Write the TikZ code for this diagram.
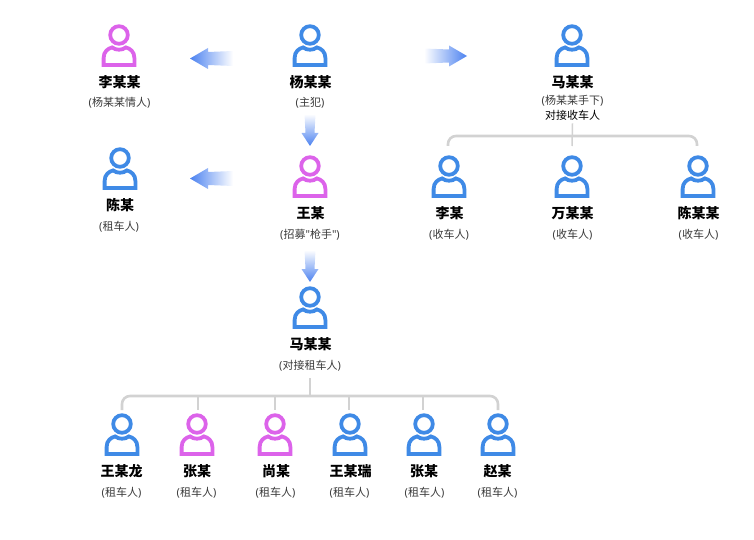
\documentclass[tikz,border=0pt]{standalone}
\usepackage{fontspec}
\setmainfont{Noto Sans CJK SC}
\newfontfamily\quoteFont{Noto Sans}
\usetikzlibrary{calc, positioning}
\definecolor{personB}{HTML}{3F8AE6}
\definecolor{personP}{HTML}{DC63EA}
\definecolor{arrowB}{HTML}{4C82F0}
\definecolor{busGray}{HTML}{D2D2D2}
\definecolor{noteGray}{HTML}{3A3A3A}
\newcommand{\notePar}[1]{{\quoteFont(}#1{\quoteFont)}}

\tikzset{
  pics/person/.style = {code = {
    \draw[#1, line width = 3.8pt] (0, 0) circle (8.8);
    \draw[#1, line width = 3.8pt, line join = miter] (-15.4, 30) -- (-15.4, 23)
      .. controls (-15.4, 16.5) and (-11, 13.5) .. (-6.8, 12.4)
      .. controls (-3.5, 15.5) and (3.5, 15.5) .. (6.8, 12.4)
      .. controls (11, 13.5) and (15.4, 16.5) .. (15.4, 23)
      -- (15.4, 30) -- cycle;
  }},
  nameText/.style = {inner sep = 0pt, font = \fontsize{14}{14}\selectfont\bfseries},
  noteText/.style = {inner sep = 0pt, text = noteGray, font = \fontsize{11}{12}\selectfont},
  busMain/.style = {busGray, line width = 2.6pt, rounded corners = 8pt},
  busDrop/.style = {busGray, line width = 1.5pt},
  fadeLeft/.style = {left color = arrowB, middle color = arrowB!60!white, right color = white},
  fadeRight/.style = {left color = white, middle color = arrowB!60!white, right color = arrowB},
  fadeDown/.style = {top color = white, middle color = arrowB!60!white, bottom color = arrowB}
}

\begin{document}
\begin{tikzpicture}[x = 1pt, y = -1pt]
  \useasboundingbox (0, 0) rectangle (754, 540);

  % ------------------------
  % people, top rows
  % ------------------------

  \pic at (119, 35) {person = personP};
  \node[nameText] (liName) at (119.5, 82) {李某某};
  \node[noteText] (liNote) at (119.5, 102.5) {\notePar{杨某某情人}};

  \pic at (310, 35) {person = personB};
  \node[nameText] (yangName) at (310.5, 82) {杨某某};
  \node[noteText] (yangNote) at (310, 102.5) {\notePar{主犯}};

  \pic at (572, 35) {person = personB};
  \node[nameText] (maName) at (572.5, 82) {马某某};
  \node[noteText] (maNote) at (572.5, 100.5) {\notePar{杨某某手下}};
  \node[noteText, text = black] (maRole) at (572.5, 115) {对接收车人};

  \pic at (120, 158) {person = personB};
  \node[nameText] (chenName) at (120, 205) {陈某};
  \node[noteText] (chenNote) at (119, 226.5) {\notePar{租车人}};

  \pic at (310, 166) {person = personP};
  \node[nameText] (wangName) at (310.5, 213) {王某};
  \node[noteText] (wangNote) at (310, 234.5) {\notePar{招募{\quoteFont"}枪手{\quoteFont"}}};

  \pic at (449, 166) {person = personB};
  \node[nameText] (liBName) at (449.5, 213) {李某};
  \node[noteText] (liBNote) at (449, 234.5) {\notePar{收车人}};

  \pic at (572, 166) {person = personB};
  \node[nameText] (wanName) at (572.5, 213) {万某某};
  \node[noteText] (wanNote) at (572.5, 234.5) {\notePar{收车人}};

  \pic at (698, 166) {person = personB};
  \node[nameText] (chenBName) at (698.5, 213) {陈某某};
  \node[noteText] (chenBNote) at (698.5, 234.5) {\notePar{收车人}};

  \pic at (310, 297) {person = personB};
  \node[nameText] (maBName) at (310.5, 344) {马某某};
  \node[noteText] (maBNote) at (310, 365.5) {\notePar{对接租车人}};

  % ------------------------
  % people, bottom row
  % ------------------------

  \pic at (122, 424) {person = personB};
  \node[nameText] (wangLName) at (121.5, 471) {王某龙};
  \node[noteText] (wangLNote) at (121.5, 492.5) {\notePar{租车人}};

  \pic at (197, 424) {person = personP};
  \node[nameText] (zhangAName) at (197, 471) {张某};
  \node[noteText] (zhangANote) at (196.5, 492.5) {\notePar{租车人}};

  \pic at (275, 424) {person = personP};
  \node[nameText] (shangName) at (276, 471) {尚某};
  \node[noteText] (shangNote) at (275.5, 492.5) {\notePar{租车人}};

  \pic at (350, 424) {person = personB};
  \node[nameText] (wangRName) at (350.5, 471) {王某瑞};
  \node[noteText] (wangRNote) at (349.5, 492.5) {\notePar{租车人}};

  \pic at (424, 424) {person = personB};
  \node[nameText] (zhangBName) at (424, 471) {张某};
  \node[noteText] (zhangBNote) at (424.5, 492.5) {\notePar{租车人}};

  \pic at (498, 424) {person = personB};
  \node[nameText] (zhaoName) at (497.5, 471) {赵某};
  \node[noteText] (zhaoNote) at (497.5, 492.5) {\notePar{租车人}};

  % ------------------------
  % gray brackets
  % ------------------------

  \coordinate (recvJoin) at (572, 136);
  \coordinate (recvL) at (448, 146);
  \coordinate (recvM) at (572, 146);
  \coordinate (recvR) at (697, 146);
  \draw[busDrop] (maRole.south) ++(0, 3) -- (recvM);
  \draw[busMain] (recvL) |- (recvJoin) -| (recvR);

  \coordinate (rentTop) at (310, 378);
  \coordinate (rentJoin) at (310, 396);
  \coordinate (rentA) at (122, 410);
  \coordinate (rentB) at (198, 410);
  \coordinate (rentC) at (275, 410);
  \coordinate (rentD) at (349, 410);
  \coordinate (rentE) at (423, 410);
  \coordinate (rentF) at (498, 410);
  \draw[busGray, line width = 2pt] (rentTop) -- (rentJoin);
  \draw[busMain] (rentA) |- (rentJoin) -| (rentF);
  \draw[busDrop] (rentB |- rentJoin) -- (rentB);
  \draw[busDrop] (rentC |- rentJoin) -- (rentC);
  \draw[busDrop] (rentD |- rentJoin) -- (rentD);
  \draw[busDrop] (rentE |- rentJoin) -- (rentE);

  % ------------------------
  % fading arrows
  % ------------------------

  \shade[fadeLeft] (190, 58.5) -- ++(18, -10.5) -- ++(0, 4) -- ++(25, -1) -- ++(0, 15) -- ++(-25, -1) -- ++(0, 4) -- cycle;
  \shade[fadeLeft] (190, 178.5) -- ++(18, -10.5) -- ++(0, 4) -- ++(25, -1) -- ++(0, 15) -- ++(-25, -1) -- ++(0, 4) -- cycle;
  \shade[fadeRight] (467, 56) -- ++(-18, 10.5) -- ++(0, -4) -- ++(-25, 1) -- ++(0, -15) -- ++(25, 1) -- ++(0, -4) -- cycle;
  \shade[fadeDown] (310, 146) -- ++(-8.5, -13) -- ++(4, 0) -- ++(-1, -19) -- ++(11, 0) -- ++(-1, 19) -- ++(4, 0) -- cycle;
  \shade[fadeDown] (310, 282) -- ++(-8.5, -13) -- ++(4, 0) -- ++(-1, -19) -- ++(11, 0) -- ++(-1, 19) -- ++(4, 0) -- cycle;
\end{tikzpicture}
\end{document}
